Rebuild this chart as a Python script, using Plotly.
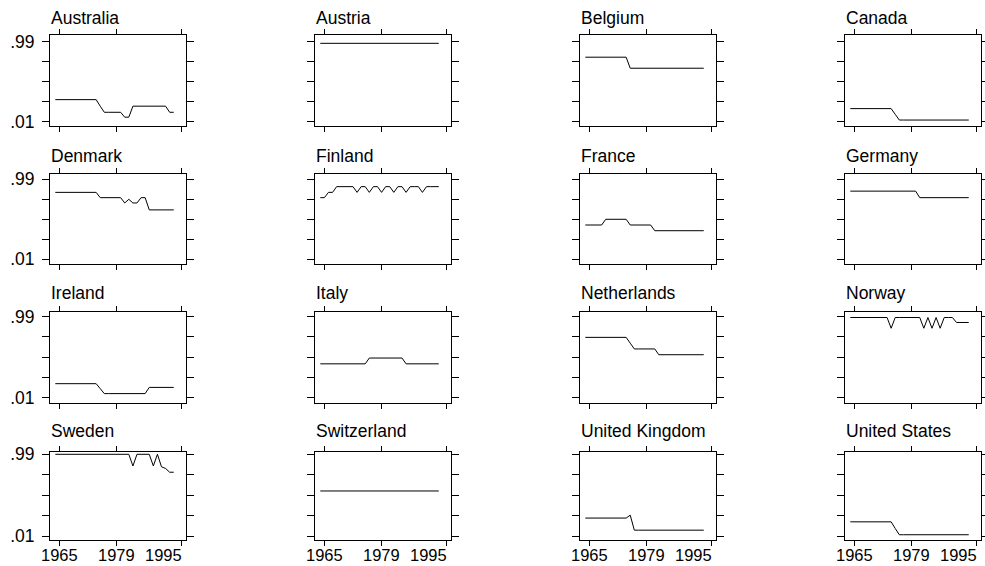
import plotly.graph_objects as go

# Years observed for every country
YEARS = list(range(1964, 1994))

# Panel order (4 x 4 grid, filled row by row)
COUNTRIES = [
    "Australia", "Austria", "Belgium", "Canada",
    "Denmark", "Finland", "France", "Germany",
    "Ireland", "Italy", "Netherlands", "Norway",
    "Sweden", "Switzerland", "United Kingdom", "United States",
]

# Yearly values, 1964-1993
australia = [0.28] * 11 + [0.20] + [0.125] * 5 + [0.065] * 2 + [0.20] * 9 + [0.125] * 2
austria = [0.97] * 30
belgium = [0.80] * 11 + [0.665] * 19
canada = [0.17] * 11 + [0.10] + [0.03] * 18
denmark = ([0.83] * 11 + [0.765] * 6 + [0.70, 0.745, 0.70, 0.70, 0.765, 0.765]
           + [0.615] * 7)
finland = ([0.765, 0.765, 0.83, 0.83] + [0.90] * 5
           + [0.83, 0.90, 0.90] * 5
           + [0.90, 0.83] + [0.90] * 4)
france = [0.43] * 5 + [0.50] * 6 + [0.43] * 6 + [0.36] * 13
germany = [0.845] * 17 + [0.765] * 13
ireland = [0.18] * 11 + [0.12] + [0.06] * 11 + [0.135] * 7
italy = [0.42] * 12 + [0.49] * 9 + [0.42] * 9
netherlands = [0.74] * 11 + [0.67] + [0.60] * 6 + [0.53] * 12
norway = ([0.98] * 10 + [0.85] + [0.98] * 7 + [0.85, 0.98, 0.85, 0.98, 0.85]
          + [0.98] * 3 + [0.92] * 4)
sweden = ([0.99] * 19 + [0.85] + [0.99] * 4 + [0.85, 0.99, 0.84, 0.82, 0.775, 0.775])
switzerland = [0.55] * 30
united_kingdom = [0.225] * 11 + [0.26] + [0.08] * 18
united_states = [0.18] * 11 + [0.10] + [0.025] * 18

SERIES = [
    australia, austria, belgium, canada,
    denmark, finland, france, germany,
    ireland, italy, netherlands, norway,
    sweden, switzerland, united_kingdom, united_states,
]

# Axis ticks and labels
X_TICKS = [1965, 1979, 1995]
X_LABELS = ["1965", "1979", "1995"]
Y_TICKS = [0.01, 0.255, 0.50, 0.745, 0.99]
Y_LABELS = [".01", "", "", "", ".99"]

X_RANGE = [1962.7, 1996.0]
# value range shown in each row of panels
Y_RANGES = [[-0.043, 1.072], [-0.048, 1.055], [-0.050, 1.043], [-0.038, 1.014]]

# Page geometry in pixels
W, H = 985, 566
COL_LEFT = [50, 315, 580, 845]
PANEL_W = 136
ROW_TOP = [35, 174, 312.3, 452.3]
ROW_BOTTOM = [126, 264, 402.7, 540]
TITLE_BASE = [24, 162, 299, 437]
XLABEL_TOP = 544

FONT = "Liberation Sans, Arial, sans-serif"

fig = go.Figure()
annotations = []

for i, (name, values) in enumerate(zip(COUNTRIES, SERIES)):
    r, c = divmod(i, 4)
    suffix = "" if i == 0 else str(i + 1)
    x0, x1 = COL_LEFT[c], COL_LEFT[c] + PANEL_W
    y0, y1 = ROW_TOP[r], ROW_BOTTOM[r]

    fig.add_trace(go.Scatter(
        x=YEARS, y=values, mode="lines",
        line=dict(color="black", width=1),
        xaxis="x" + suffix, yaxis="y" + suffix,
        showlegend=False, hoverinfo="skip",
    ))

    fig.layout["xaxis" + suffix] = dict(
        domain=[x0 / W, x1 / W], range=X_RANGE, anchor="y" + suffix,
        tickmode="array", tickvals=X_TICKS, ticktext=X_LABELS,
        showticklabels=False, ticks="outside", ticklen=5,
        tickwidth=1, tickcolor="black", automargin=False,
        mirror="ticks", showline=True, linecolor="black", linewidth=1,
        showgrid=False, zeroline=False, fixedrange=True,
    )
    fig.layout["yaxis" + suffix] = dict(
        domain=[1 - y1 / H, 1 - y0 / H], range=Y_RANGES[r], anchor="x" + suffix,
        tickmode="array", tickvals=Y_TICKS, ticktext=Y_LABELS,
        showticklabels=(c == 0), ticks="outside", ticklen=7,
        tickwidth=1, tickcolor="black", automargin=False,
        ticklabelstandoff=4,
        mirror="ticks", showline=True, linecolor="black", linewidth=1,
        showgrid=False, zeroline=False, fixedrange=True,
        tickfont=dict(family=FONT, size=17.5, color="black"),
    )

    # panel title above the box
    annotations.append(dict(
        text=name, xref="paper", yref="paper",
        x=x0 / W, xshift=-1, y=1 - (TITLE_BASE[r] + 6) / H,
        xanchor="left", yanchor="bottom", showarrow=False,
        font=dict(family=FONT, size=17.5, color="black"),
    ))

    # year labels under the bottom row; the last one sits left of its tick
    if r == 3:
        for val, lab in zip(X_TICKS, X_LABELS):
            last = val == X_TICKS[-1]
            annotations.append(dict(
                text=lab, xref="x" + suffix, yref="paper",
                x=val, xshift=2 if last else 0,
                y=1 - XLABEL_TOP / H,
                xanchor="right" if last else "center", yanchor="top",
                showarrow=False,
                font=dict(family=FONT, size=16.5, color="black"),
            ))

fig.update_layout(
    width=W, height=H,
    margin=dict(l=0, r=0, t=0, b=0),
    paper_bgcolor="white", plot_bgcolor="white",
    annotations=annotations,
)

fig.write_html("out.html")
